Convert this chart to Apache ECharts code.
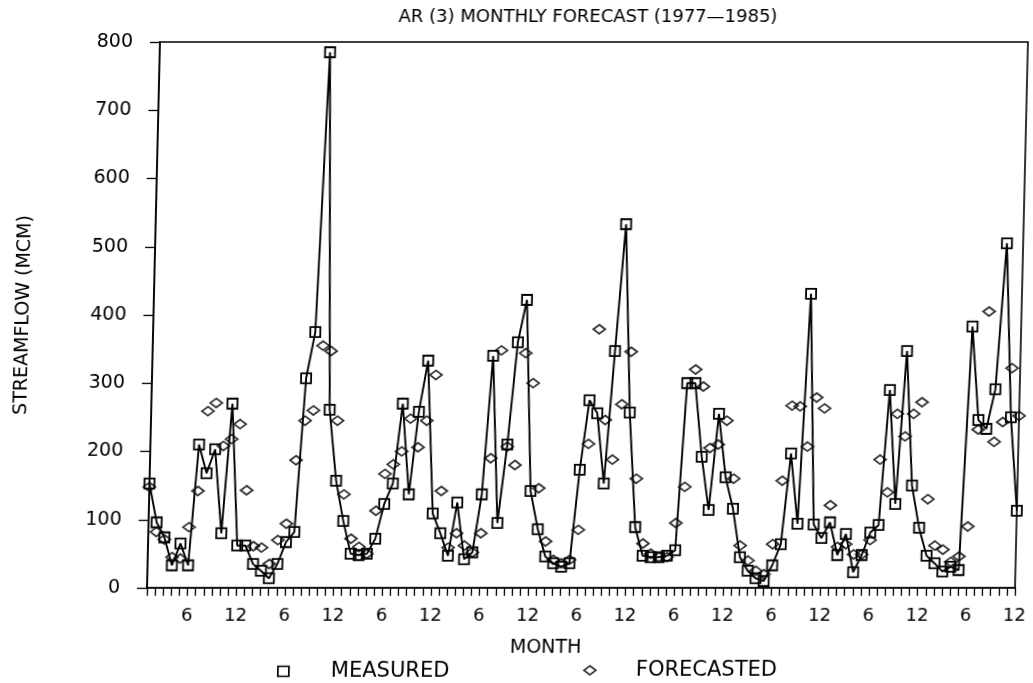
<!DOCTYPE html>
<html>
<head>
<meta charset="utf-8">
<title>AR (3) Monthly Forecast 1977-1985</title>
<script src="https://cdn.jsdelivr.net/npm/echarts@6/dist/echarts.min.js"></script>
<style>
  html, body { margin: 0; padding: 0; background: #fff; overflow: hidden; }
  /* the plotted sheet leans slightly: its top edge sits further right than its base */
  #chart { width: 1033px; height: 683px; transform: skewX(-1.36deg); transform-origin: 0 588px; }
</style>
</head>
<body>
<div id="chart"></div>
<script>
// Monthly streamflow (MCM), January 1977 to December 1985, one row per year.
const years = [1977, 1978, 1979, 1980, 1981, 1982, 1983, 1984, 1985];

const measured = [
  153, 96, 74, 33, 65, 33, 210, 168, 203, 80, 270, 62,     // 1977
  62, 35, 25, 14, 35, 67, 82, 307, 375, 785, 261, 157,     // 1978
  98, 50, 48, 50, 72, 123, 153, 270, 137, 258, 333, 109,   // 1979
  80, 47, 125, 42, 52, 137, 340, 95, 210, 360, 422, 142,   // 1980
  86, 46, 36, 31, 36, 173, 275, 256, 153, 347, 533, 257,   // 1981
  89, 47, 45, 45, 47, 55, 300, 300, 192, 114, 255, 162,    // 1982
  116, 45, 25, 14, 10, 33, 64, 197, 94, 431, 93, 73,       // 1983
  96, 48, 79, 23, 48, 81, 92, 290, 123, 347, 150, 88,      // 1984
  47, 36, 24, 31, 26, 383, 246, 233, 291, 505, 250, 113    // 1985
];

const forecasted = [
  148, 82, 71, 45, 43, 89, 142, 259, 271, 208, 218, 240,   // 1977
  143, 61, 59, 35, 70, 94, 187, 245, 260, 355, 347, 245,   // 1978
  137, 72, 60, 50, 113, 167, 181, 200, 248, 206, 245, 312, // 1979
  142, 59, 80, 62, 52, 80, 190, 348, 207, 180, 344, 300,   // 1980
  146, 68, 41, 36, 41, 85, 211, 379, 246, 188, 269, 346,   // 1981
  160, 65, 50, 45, 45, 95, 148, 320, 295, 205, 210, 245,   // 1982
  160, 62, 40, 25, 20, 64, 157, 267, 266, 207, 279, 263,   // 1983
  121, 60, 64, 49, 49, 70, 188, 140, 255, 222, 255, 272,   // 1984
  130, 62, 56, 38, 46, 90, 232, 405, 214, 243, 322, 252    // 1985
];

// Month-of-year values that get a tick label on the time axis.
const labelMonths = [6, 12];

const FONT = 'DejaVu Sans';
const INK = '#000';
const HOLLOW = 'rgba(255,255,255,0)';

const monthOfYear = m => ((m - 1) % 12) + 1;
const toPoints = values => values.map((v, i) => [i + 1, v]);

const chart = echarts.init(document.getElementById('chart'), null, { renderer: 'canvas' });

chart.setOption({
  animation: false,
  backgroundColor: '#fff',
  textStyle: { fontFamily: FONT, color: INK },
  title: {
    text: 'AR (3) MONTHLY FORECAST (' + years[0] + '\u2014' + years[years.length - 1] + ')',
    left: 380,
    top: 3,
    textStyle: { fontFamily: FONT, fontSize: 18, fontWeight: 'normal', color: INK }
  },
  grid: {
    left: 138, right: 18, top: 42, bottom: 95,
    show: true, borderColor: INK, borderWidth: 1.6, backgroundColor: 'transparent'
  },
  legend: [
    {
      data: ['MEASURED'],
      left: 274, top: 656,
      icon: 'rect', itemWidth: 11, itemHeight: 10,
      itemStyle: { color: HOLLOW, borderColor: INK, borderWidth: 1.7 },
      textStyle: { fontFamily: FONT, fontSize: 21, color: INK, padding: [0, 0, 0, 37] }
    },
    {
      data: ['FORECASTED'],
      left: 580, top: 655,
      icon: 'diamond', itemWidth: 12, itemHeight: 9,
      itemStyle: { color: HOLLOW, borderColor: INK, borderWidth: 1.7 },
      textStyle: { fontFamily: FONT, fontSize: 21, color: INK, padding: [0, 0, 0, 35] }
    }
  ],
  xAxis: {
    type: 'value',
    min: 1, max: years.length * 12, interval: 1,
    name: 'MONTH',
    nameLocation: 'middle',
    nameGap: 51,
    nameTextStyle: { fontFamily: FONT, fontSize: 19, color: INK, padding: [0, 68, 0, 0] },
    axisLine: { show: true, onZero: false, lineStyle: { color: INK, width: 1.6 } },
    axisTick: { show: true, length: 8, lineStyle: { color: INK, width: 1.3 } },
    splitLine: { show: false },
    axisLabel: {
      margin: 19,
      fontFamily: FONT, fontSize: 18, color: INK,
      formatter: v => labelMonths.includes(monthOfYear(v)) ? String(monthOfYear(v)) : ''
    }
  },
  yAxis: {
    type: 'value',
    min: 0, max: 800, interval: 100,
    name: 'STREAMFLOW (MCM)',
    nameLocation: 'middle',
    nameGap: 120,
    nameRotate: 90,
    nameTextStyle: { fontFamily: FONT, fontSize: 19, color: INK },
    axisLine: { show: true, lineStyle: { color: INK, width: 1.6 } },
    axisTick: { show: true, length: 10, lineStyle: { color: INK, width: 1.3 } },
    splitLine: { show: false },
    axisLabel: { margin: 27, fontFamily: FONT, fontSize: 19, color: INK }
  },
  series: [
    {
      name: 'MEASURED',
      type: 'line',
      data: toPoints(measured),
      symbol: 'rect',
      symbolSize: 10,
      showAllSymbol: true,
      lineStyle: { color: INK, width: 1.9 },
      itemStyle: { color: HOLLOW, borderColor: INK, borderWidth: 1.8 },
      z: 3
    },
    {
      name: 'FORECASTED',
      type: 'scatter',
      data: toPoints(forecasted),
      symbol: 'diamond',
      symbolSize: [12, 9],
      itemStyle: { color: HOLLOW, borderColor: INK, borderWidth: 1.8 },
      z: 4
    }
  ]
});
</script>
</body>
</html>
